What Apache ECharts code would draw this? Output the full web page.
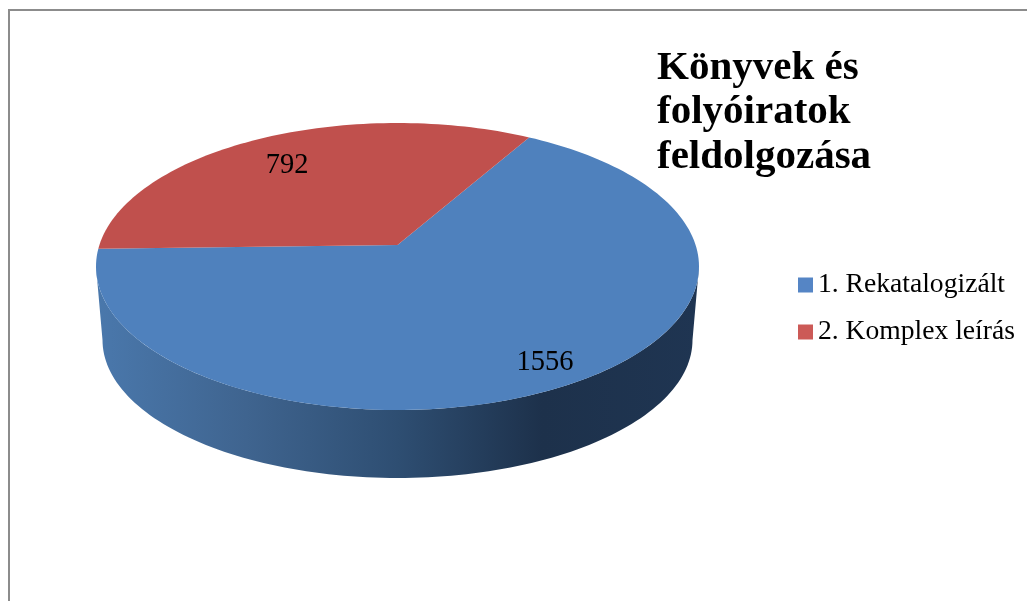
<!DOCTYPE html>
<html>
<head>
<meta charset="utf-8">
<style>
  html, body { margin: 0; padding: 0; background: #fff; }
  #chart { width: 1027px; height: 601px; }
</style>
<script src="https://cdn.jsdelivr.net/npm/echarts@6/dist/echarts.min.js"></script>
</head>
<body>
<div id="chart"></div>
<script>
// adatok
var categories = ["1. Rekatalogizált", "2. Komplex leírás"];
var values = [1556, 792];
var titleText = "Könyvek és\nfolyóiratok\nfeldolgozása";

var total = values[0] + values[1];
var serif = '"Liberation Serif", serif';

// a korong geometriaja
var cx = 397.5, cy = 266.5, rx = 301.5, ry = 143.5;
var bottomCx = 397.5, bottomCy = 340, bottomRx = 295, bottomRy = 138;
var tilt = -0.15;      // perspektiva: a kozeppont eltolasa felfele
var redStart = 178.5;  // a piros szelet kezdete, fokban

// kor pontjanak vetitese az ellipszisre
function project(deg, r) {
  var a = deg * Math.PI / 180;
  var u = r * Math.cos(a), v = r * Math.sin(a);
  var w = 1 + tilt * v;
  return [cx + rx * u * Math.sqrt(1 - tilt * tilt) / w, cy + ry * (v + tilt) / w];
}

function slicePoints(from, to) {
  var pts = [project(0, 0)];
  var n = Math.ceil((to - from) / 1.5);
  for (var i = 0; i <= n; i++) {
    pts.push(project(from + (to - from) * i / n, 1));
  }
  return pts;
}

// a korong oldala: felso ellipszis also fele es also ellipszis also fele
function sidePoints() {
  var pts = [];
  for (var i = 0; i <= 120; i++) {
    var a = i * 1.5 * Math.PI / 180;
    pts.push([cx + rx * Math.cos(a), cy + ry * Math.sin(a)]);
  }
  for (var j = 120; j >= 0; j--) {
    var b = j * 1.5 * Math.PI / 180;
    pts.push([bottomCx + bottomRx * Math.cos(b), bottomCy + bottomRy * Math.sin(b)]);
  }
  return pts;
}

function sliceLabel(value, from, to, r, dx, dy) {
  var p = project((from + to) / 2, r);
  return {
    type: "text",
    style: {
      x: p[0] + dx, y: p[1] + dy, text: String(value),
      align: "center", verticalAlign: "middle",
      font: "28.5px " + serif, fill: "#000"
    }
  };
}

function renderBlue(params, api) {
  var value = api.value(0);
  var to = redStart + values[1] / total * 360;
  var from = to + value / total * 360;
  return {
    type: "group",
    children: [
      {
        type: "polygon",
        shape: { points: sidePoints() },
        style: {
          fill: new echarts.graphic.LinearGradient(0, 0, 1, 0, [
            { offset: 0, color: "#4a78ac" },
            { offset: 0.25, color: "#3f648f" },
            { offset: 0.5, color: "#2e4e72" },
            { offset: 0.74, color: "#1d314b" },
            { offset: 1, color: "#1f3552" }
          ])
        }
      },
      { type: "polygon", shape: { points: slicePoints(to, from) }, style: { fill: "#4f81bd" } },
      sliceLabel(value, to, from, 0.855, 1, 2)
    ]
  };
}

function renderRed(params, api) {
  var value = api.value(0);
  var to = redStart + value / total * 360;
  return {
    type: "group",
    children: [
      { type: "polygon", shape: { points: slicePoints(redStart, to) }, style: { fill: "#c0504d" } },
      sliceLabel(value, redStart, to, 0.75, -6, 3)
    ]
  };
}

var chart = echarts.init(document.getElementById("chart"), null, { renderer: "canvas" });
chart.setOption({
  backgroundColor: "#fff",
  animation: false,
  title: {
    text: titleText,
    left: 657,
    top: 46,
    padding: 0,
    textStyle: {
      fontFamily: serif,
      fontWeight: "bold",
      fontSize: 41,
      lineHeight: 44.5,
      color: "#000"
    }
  },
  legend: {
    orient: "vertical",
    left: 798,
    top: 271,
    padding: 0,
    itemWidth: 15,
    itemHeight: 15,
    itemGap: 19,
    icon: "rect",
    textStyle: { fontFamily: serif, fontSize: 27.6, color: "#000" },
    data: [
      { name: categories[0], itemStyle: { color: "#5585c5" } },
      { name: categories[1], itemStyle: { color: "#cc5a57" } }
    ]
  },
  graphic: [
    {
      type: "polyline",
      silent: true,
      shape: { points: [[9, 601], [9, 10], [1027, 10]] },
      style: { stroke: "#8c8c8c", lineWidth: 2, fill: null }
    }
  ],
  series: [
    {
      type: "custom",
      name: categories[0],
      coordinateSystem: "none",
      itemStyle: { color: "#5585c5" },
      renderItem: renderBlue,
      data: [[values[0]]]
    },
    {
      type: "custom",
      name: categories[1],
      coordinateSystem: "none",
      itemStyle: { color: "#cc5a57" },
      renderItem: renderRed,
      data: [[values[1]]]
    }
  ]
});
</script>
</body>
</html>
